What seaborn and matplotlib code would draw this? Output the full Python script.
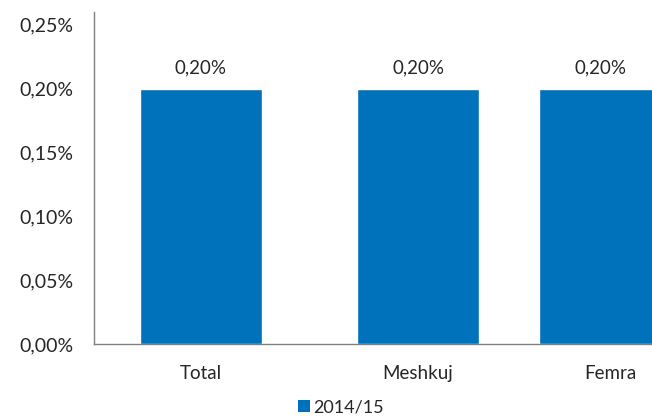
import matplotlib
matplotlib.use("Agg")
import matplotlib.pyplot as plt
import seaborn as sns
import pandas as pd
from matplotlib.patches import Patch
from matplotlib.ticker import FuncFormatter

categories = ["Total", "Meshkuj", "Femra"]
values = [0.20, 0.20, 0.20]
series_name = "2014/15"
yticks = [0.00, 0.05, 0.10, 0.15, 0.20, 0.25]

# layout positions of the categories (uneven spacing as in the reference)
positions = [0.0, 1.0, 1.839]
label_positions = [0.0, 1.0, 1.885]

sns.set_theme(style="white")
plt.rcParams['font.family'] = ['Lato', 'DejaVu Sans']

bar_color = "#0072BC"
text_color = "#262626"

df = pd.DataFrame({"pos": positions, "val": values, "cat": categories})

fig = plt.figure(figsize=(6.52, 4.17), dpi=100)
ax = fig.add_axes([94/652, 73/417, 558/652, 332/417])

sns.barplot(data=df, x="pos", y="val", native_scale=True, color=bar_color,
            width=0.562/0.839, saturation=1, ax=ax, errorbar=None)

ax.set_xlim(-0.493, 2.078)
ax.set_ylim(0, 0.26)
ax.set_yticks(yticks)
ax.yaxis.set_major_formatter(FuncFormatter(lambda v, p: f"{v:.2f}%".replace(".", ",")))
ax.set_xticks(label_positions)
ax.set_xticklabels(categories)
ax.set_xlabel("")
ax.set_ylabel("")

ax.tick_params(axis="y", length=0, pad=15, labelsize=14, labelcolor=text_color)
ax.tick_params(axis="x", length=0, pad=15, labelsize=13.5, labelcolor=text_color)

for s in ["top", "right"]:
    ax.spines[s].set_visible(False)
for s in ["left", "bottom"]:
    ax.spines[s].set_color("#808080")
    ax.spines[s].set_linewidth(1.0)

for cont in ax.containers:
    ax.bar_label(cont, labels=[f"{v:.2f}%".replace(".", ",") for v in values],
                 padding=9, fontsize=13.5, color=text_color)

handles = [Patch(facecolor=bar_color, edgecolor="none", label=series_name)]
fig.legend(handles=handles, loc="lower center", bbox_to_anchor=(0.523, -0.035),
           frameon=False, fontsize=13, handlelength=0.65, handleheight=0.65,
           handletextpad=0.2, labelcolor=text_color)

fig.savefig("out.png", dpi=100)
